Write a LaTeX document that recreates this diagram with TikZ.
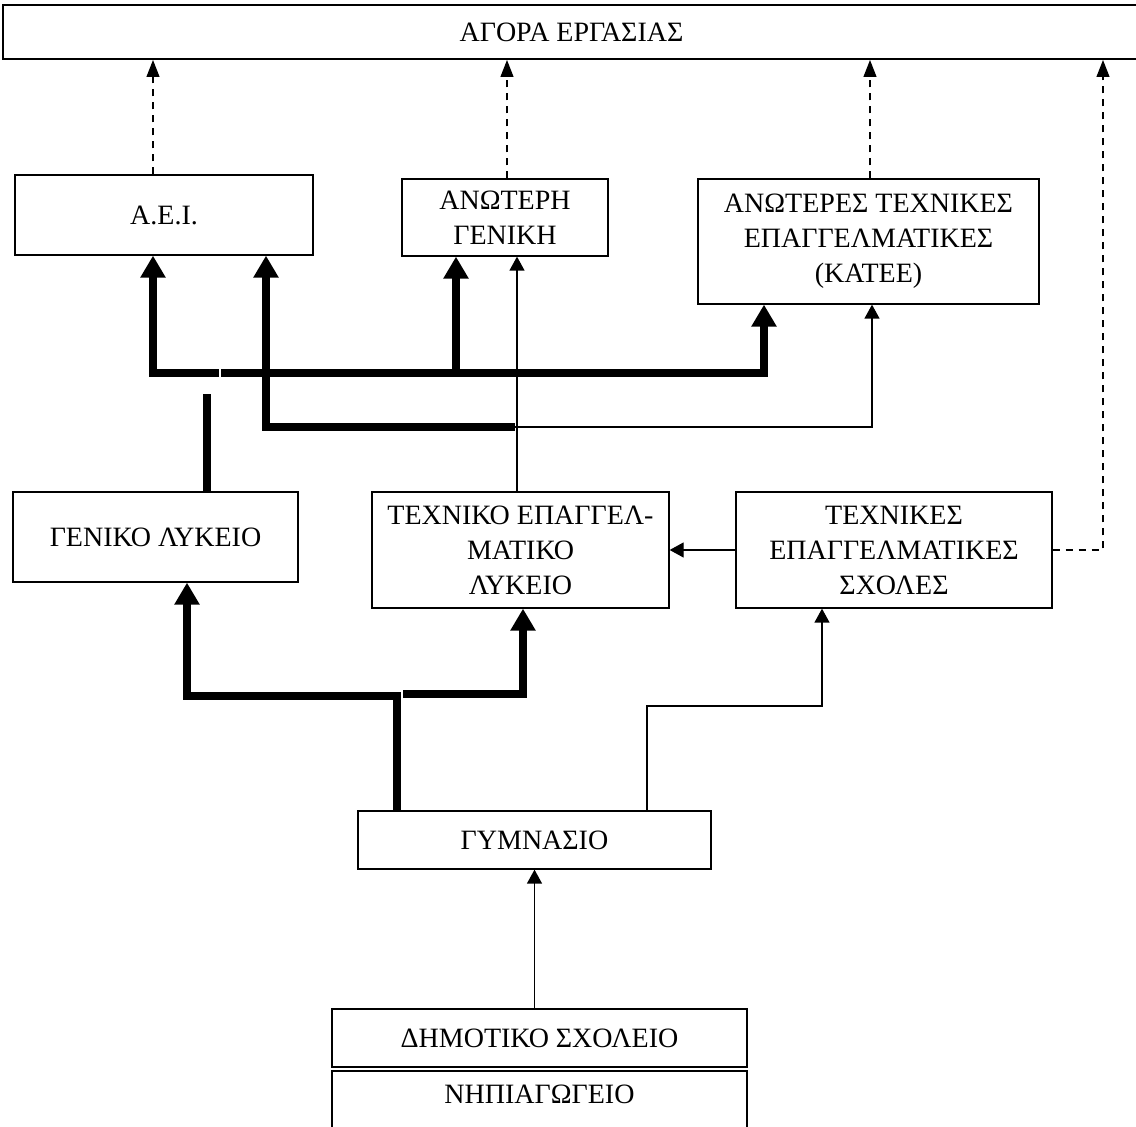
\documentclass[tikz,border=0pt]{standalone}
\usepackage{fontspec}
\setmainfont{Liberation Serif}
\usetikzlibrary{arrows.meta}
\begin{document}
\begin{tikzpicture}[x=0.5pt,y=-0.5pt,
  txt/.style={font=\fontsize{14}{17.5}\selectfont},
  box/.style={draw, line width=0.65pt, rectangle, inner sep=0pt, align=center, txt},
  thk/.style={line width=4pt},
  thn/.style={line width=0.65pt},
  dsh/.style={line width=0.6pt, dash pattern=on 3.5pt off 3pt},
  tipB/.style={-{Triangle[length=11pt,width=12pt]}},
  tipT/.style={-{Triangle[length=7pt,width=7.5pt]}},
  tipD/.style={-{Triangle[length=8.5pt,width=6.5pt]}},
]
\useasboundingbox (0,0) rectangle (1136,1127);
\fill[white] (0,0) rectangle (1136,1127);

% boxes
\node[box, line width=1pt, minimum width=568.5pt, minimum height=27pt] (top) at (571.5,32) {ΑΓΟΡΑ ΕΡΓΑΣΙΑΣ};
\node[box, minimum width=149pt, minimum height=40pt] (aei) at (164,215) {Α.Ε.Ι.};
\node[box, minimum width=103pt, minimum height=38.5pt] (anot) at (505,217.5) {ΑΝΩΤΕΡΗ\\ΓΕΝΙΚΗ};
\node[box, minimum width=170.5pt, minimum height=62.5pt] (katee) at (868.5,241.5) {ΑΝΩΤΕΡΕΣ ΤΕΧΝΙΚΕΣ\\ΕΠΑΓΓΕΛΜΑΤΙΚΕΣ\\(ΚΑΤΕΕ)};
\node[box, minimum width=142.5pt, minimum height=45pt] (genlyk) at (155.5,537) {ΓΕΝΙΚΟ ΛΥΚΕΙΟ};
\node[box, minimum width=148.5pt, minimum height=58pt] (tel) at (520.5,550) {ΤΕΧΝΙΚΟ ΕΠΑΓΓΕΛ-\\ΜΑΤΙΚΟ\\ΛΥΚΕΙΟ};
\node[box, minimum width=158pt, minimum height=58pt] (tes) at (894,550) {ΤΕΧΝΙΚΕΣ\\ΕΠΑΓΓΕΛΜΑΤΙΚΕΣ\\ΣΧΟΛΕΣ};
\node[box, minimum width=176.5pt, minimum height=29pt] (gym) at (534.5,840) {ΓΥΜΝΑΣΙΟ};
\node[box, minimum width=207.5pt, minimum height=29pt] (dim) at (539.5,1038) {ΔΗΜΟΤΙΚΟ ΣΧΟΛΕΙΟ};
\node[box, minimum width=207.5pt, minimum height=34.5pt,
      label={[txt, yshift=5.75pt]center:ΝΗΠΙΑΓΩΓΕΙΟ}] (nip) at (539.5,1105.5) {};

% dashed links to the labour market
\coordinate (k1) at (153,120);
\coordinate (k2) at (507,120);
\coordinate (k3) at (870,120);
\coordinate (r1) at (1103,553);
\draw[dsh,tipD] (k1 |- aei.north) -- (k1 |- top.south);
\draw[dsh,tipD] (k2 |- anot.north) -- (k2 |- top.south);
\draw[dsh,tipD] (k3 |- katee.north) -- (k3 |- top.south);
\draw[dsh,tipD] (tes.east) -- (tes.east -| r1) -- (r1 |- top.south);

% thick upper lines
\coordinate (h1) at (219,373);
\coordinate (h1l) at (153,373);
\draw[thk,tipB] (h1) -- (h1l) -- (h1l |- aei.south);
\coordinate (h2) at (221,373);
\coordinate (h2r) at (764,373);
\draw[thk,tipB] (h2) -- (h2r) -- (h2r |- katee.south);
\coordinate (b2) at (456,375);
\draw[thk,tipB] (b2) -- (b2 |- anot.south);
\coordinate (g1) at (207,394);
\draw[thk] (g1 |- genlyk.north) -- (g1);
\coordinate (c1) at (266,427);
\coordinate (c2) at (515,427);
\coordinate (c3) at (872,427);
\draw[thk,tipB] (c2) -- (c1) -- (c1 |- aei.south);
\draw[thn,tipT] (c2) -- (c3) -- (c3 |- katee.south);
\coordinate (v1) at (517,400);
\draw[thn,tipT] (v1 |- tel.north) -- (v1 |- anot.south);

% lower lines
\coordinate (d1) at (397,696);
\coordinate (d2) at (187,696);
\draw[thk,tipB] (d1 |- gym.north) -- (d1) -- (d2) -- (d2 |- genlyk.south);
\coordinate (e1) at (403,694);
\coordinate (e2) at (523,694);
\draw[thk,tipB] (e1) -- (e2) -- (e2 |- tel.south);
\coordinate (f1) at (647,706);
\coordinate (f2) at (822,706);
\draw[thn,tipT] (f1 |- gym.north) -- (f1) -- (f2) -- (f2 |- tes.south);
\draw[thn,tipT] (tes.west) -- (tes.west -| tel.east);
\draw[thn,tipT] (gym.south |- dim.north) -- (gym.south);
\end{tikzpicture}
\end{document}
